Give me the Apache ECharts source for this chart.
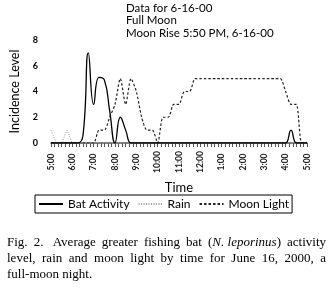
<!DOCTYPE html>
<html><head><meta charset="utf-8">
<script src="https://cdn.jsdelivr.net/npm/echarts@6/dist/echarts.min.js"></script>
<style>html,body{margin:0;padding:0;background:#fff}#c{width:335px;height:290px}</style>
</head><body><div id="c"></div>
<script>
// minutes after 5:00 PM, 15-minute readings
var minutes = [0,15,30,45,60,75,90,105,120,135,150,165,180,195,210,225,240,255,270,285,300,315,330,345,360,375,390,405,420,435,450,465,480,495,510,525,540,555,570,585,600,615,630,645,660,675,690,705,720];
var batActivity = [0,0,0,0,0,0,0.6,7,3,5.1,4.9,2.5,0,2,1,0,0,0,0,0,0,0,0,0,0,0,0,0,0,0,0,0,0,0,0,0,0,0,0,0,0,0,0,0,0,1,0,0,0];
var rain = [1,0,0,1,0,0,0,0,0,0,0,0,0,0,0,0,0,0,0,0,0,0,0,0,0,0,0,0,0,0,0,0,0,0,0,0,0,0,0,0,0,0,0,0,0,0,0,0,0];
var moonLight = [0,0,0,0,0,0,0,0,0,1,1,2,3,5,3,5,4,2,1,1,0,2,2,3,3,4,4,5,5,5,5,5,5,5,5,5,5,5,5,5,5,5,5,5,4,3,3,0,0];
var timeLabels = ['5:00','6:00','7:00','8:00','9:00','10:00','11:00','12:00','1:00','2:00','3:00','4:00','5:00'];
var yTicks = [0,2,4,6,8];
var titleLines = ['Data for 6-16-00','Full Moon','Moon Rise 5:50 PM, 6-16-00'];

function pairs(vals){ return minutes.map(function(m,i){ return [m, vals[i]]; }); }

var chart = echarts.init(document.getElementById('c'));
var sans = 'Lato';

// caption lines, justified
var capFont = '13px "Liberation Serif"';
var capLeft = 7, capRight = 326;
var capLines = [
  {y: 236, words: [['Fig.'],['2.'],[' Average'],['greater'],['fishing'],['bat'],['(', 'N. leporinus', ')'],['activity']], justify:true},
  {y: 252, words: [['level,'],['rain'],['and'],['moon'],['light'],['by'],['time'],['for'],['June'],['16,'],['2000,'],['a']], justify:true},
  {y: 268, words: [['full-moon'],['night.']], justify:false}
];
var cv = document.createElement('canvas').getContext('2d');
function mw(t, italic){ cv.font = (italic?'italic ':'') + capFont; return cv.measureText(t).width; }
var graphics = [];
capLines.forEach(function(line){
  var widths = line.words.map(function(w){
    var s=0; w.forEach(function(p,k){ s += mw(p, w.length===3 && k===1); }); return s; });
  var total = widths.reduce(function(a,b){return a+b;},0);
  var gap = line.justify ? (capRight-capLeft-total)/(line.words.length-1) : mw(' ');
  var x = capLeft;
  line.words.forEach(function(w,i){
    var xx = x;
    w.forEach(function(p,k){
      var it = (w.length===3 && k===1);
      graphics.push({type:'text', left: xx, top: line.y, style:{text:p, font:(it?'italic ':'')+capFont, fill:'#000'}});
      xx += mw(p,it);
    });
    x += widths[i] + gap;
  });
});

chart.setOption({
  animation:false,
  title:{text: titleLines.join('\n'), left:126, top:2, padding:0,
    textStyle:{fontFamily:sans, fontSize:11.5, fontWeight:'normal', color:'#000', lineHeight:12.5}},
  grid:{left:45, right:28, top:40, bottom:147},
  legend:{left:35, top:195, orient:'horizontal', borderColor:'#000', borderWidth:1, padding:[3,3,3,3],
    itemWidth:24, itemHeight:10, itemGap:8,
    itemStyle:{color:'rgba(0,0,0,0)', borderColor:'rgba(0,0,0,0)', borderWidth:0},
    textStyle:{fontFamily:sans, fontSize:12, color:'#000'},
    data:['Bat Activity','Rain','Moon Light']},
  xAxis:{type:'value', min:0, max:720, interval:60,
    name:'Time', nameLocation:'middle', nameGap:38,
    nameTextStyle:{fontFamily:sans, fontSize:13, color:'#000'},
    axisLine:{show:true, lineStyle:{color:'#555', width:1.5}},
    axisTick:{show:true, length:4, lineStyle:{color:'#555', width:1}},
    minorTick:{show:true, splitNumber:6, length:4, lineStyle:{color:'#555', width:1}},
    splitLine:{show:false}, minorSplitLine:{show:false},
    axisLabel:{rotate:90, align:'center', margin:19, fontFamily:sans, fontSize:8.5, fontWeight:'bold', color:'#222',
      formatter:function(v){ return timeLabels[Math.round(v/60)]; }}},
  yAxis:{type:'value', min:yTicks[0], max:yTicks[yTicks.length-1], interval:2,
    name:'Incidence Level', nameLocation:'middle', nameGap:30, nameRotate:90,
    nameTextStyle:{fontFamily:sans, fontSize:12.5, color:'#000'},
    axisLine:{show:false}, axisTick:{show:false}, splitLine:{show:false},
    axisLabel:{margin:13, fontFamily:sans, fontSize:9, fontWeight:'bold', color:'#000'}},
  series:[
    {name:'Bat Activity', type:'line', data:pairs(batActivity), smooth:0.5, symbol:'none', z:4,
      lineStyle:{color:'#000', width:1.3}, itemStyle:{color:'#000'}},
    {name:'Rain', type:'line', data:pairs(rain), symbol:'none', z:2,
      lineStyle:{color:'#999', width:1, type:[1,1.5]}, itemStyle:{color:'#999'}},
    {name:'Moon Light', type:'line', data:pairs(moonLight), smooth:0.25, symbol:'none', z:3,
      lineStyle:{color:'#222', width:1.2, type:[2.5,2]}, itemStyle:{color:'#222'}}
  ],
  graphic: graphics
});
</script></body></html>
